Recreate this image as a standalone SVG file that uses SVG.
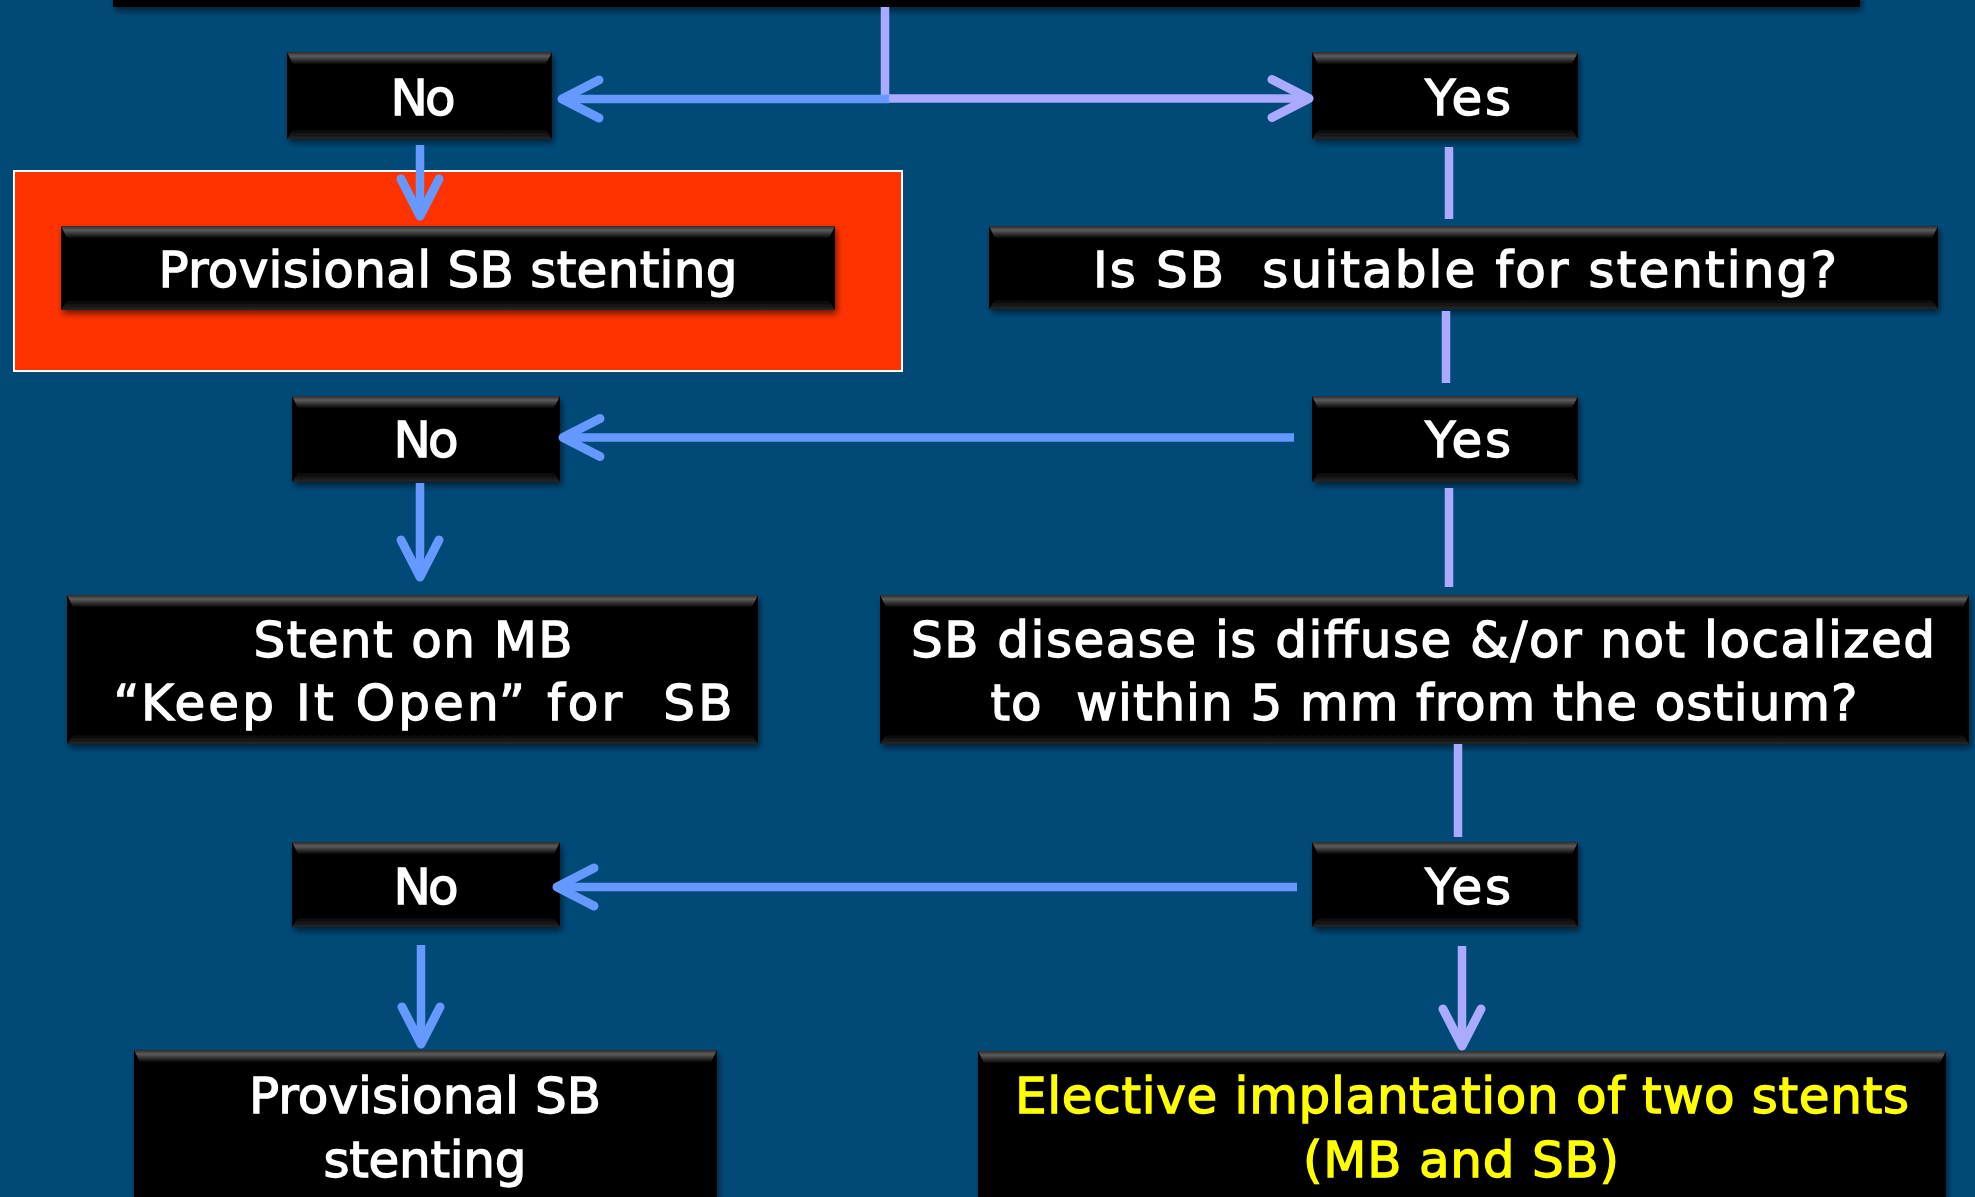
<svg xmlns="http://www.w3.org/2000/svg" width="1975" height="1197" viewBox="0 0 1975 1197">
<style>
.bg{fill:#014a78}
.box{fill:#050505}
.bt{fill:url(#gTop)}
.bb{fill:url(#gBot)}
.t{font-family:"DejaVu Sans","Liberation Sans",sans-serif;font-size:50px;fill:#ffffff;stroke:#ffffff;stroke-width:1.3;text-anchor:middle;white-space:pre}
.y{fill:#ffff00;stroke:#ffff00}
.blue{fill:none;stroke:#6699ff;stroke-width:8.5}
.pur{fill:none;stroke:#aaaaff;stroke-width:8.5}
</style>
<defs>
<linearGradient id="gTop" x1="0" y1="0" x2="0" y2="1">
<stop offset="0" stop-color="#2a2a2a"/>
<stop offset="0.35" stop-color="#5c5c5c"/>
<stop offset="1" stop-color="#050505"/>
</linearGradient>
<linearGradient id="gBot" x1="0" y1="0" x2="0" y2="1">
<stop offset="0" stop-color="#050505"/>
<stop offset="1" stop-color="#262626"/>
</linearGradient>
<filter id="sh" x="-5%" y="-20%" width="110%" height="150%">
<feGaussianBlur in="SourceAlpha" stdDeviation="3"/>
<feOffset dx="2" dy="4" result="b"/>
<feComponentTransfer><feFuncA type="linear" slope="0.55"/></feComponentTransfer>
<feMerge><feMergeNode/><feMergeNode in="SourceGraphic"/></feMerge>
</filter>
<marker id="aB" markerUnits="userSpaceOnUse" viewBox="-45 -25 52 50" refX="0" refY="0" markerWidth="52" markerHeight="50" orient="auto" overflow="visible">
<path d="M-37,-19 L0,0 L-37,19" fill="none" stroke="#6699ff" stroke-width="9" stroke-linecap="round" stroke-linejoin="round"/>
</marker>
<marker id="aP" markerUnits="userSpaceOnUse" viewBox="-45 -25 52 50" refX="0" refY="0" markerWidth="52" markerHeight="50" orient="auto" overflow="visible">
<path d="M-37,-19 L0,0 L-37,19" fill="none" stroke="#aaaaff" stroke-width="9" stroke-linecap="round" stroke-linejoin="round"/>
</marker>
</defs>
<rect class="bg" x="0" y="0" width="1975" height="1197"/>

<g id="top-box" filter="url(#sh)">
<rect class="box" x="113" y="-60" width="1747" height="67" fill="#0d0d0d"/>
</g>

<g id="highlight">
<rect x="14" y="171" width="888" height="200" fill="#ff3300" stroke="#ffffff" stroke-width="2"/>
</g>

<g id="no1" filter="url(#sh)">
<rect class="box" x="287" y="52" width="265" height="87"/>
<polygon class="bt" points="287,52 552,52 546,64 293,64"/>
<polygon class="bb" points="293,130 546,130 552,139 287,139"/>
<text class="t" x="423" y="115" textLength="65">No</text>
</g>

<g id="yes1" filter="url(#sh)">
<rect class="box" x="1312" y="52" width="266" height="87"/>
<polygon class="bt" points="1312,52 1578,52 1572,64 1318,64"/>
<polygon class="bb" points="1318,130 1572,130 1578,139 1312,139"/>
<text class="t" x="1468" y="115" textLength="86">Yes</text>
</g>

<g id="prov1" filter="url(#sh)">
<rect class="box" x="61" y="226" width="774" height="84"/>
<polygon class="bt" points="61,226 835,226 829,238 67,238"/>
<polygon class="bb" points="67,301 829,301 835,310 61,310"/>
<text class="t" x="448" y="287" textLength="579">Provisional SB stenting</text>
</g>

<g id="suitable" filter="url(#sh)">
<rect class="box" x="989" y="226" width="949" height="83"/>
<polygon class="bt" points="989,226 1938,226 1932,238 995,238"/>
<polygon class="bb" points="995,300 1932,300 1938,309 989,309"/>
<text class="t" x="1465" y="287" textLength="744" xml:space="preserve">Is SB  suitable for stenting?</text>
</g>

<g id="no2" filter="url(#sh)">
<rect class="box" x="292" y="396" width="268" height="86"/>
<polygon class="bt" points="292,396 560,396 554,408 298,408"/>
<polygon class="bb" points="298,473 554,473 560,482 292,482"/>
<text class="t" x="426" y="457" textLength="65">No</text>
</g>

<g id="yes2" filter="url(#sh)">
<rect class="box" x="1312" y="396" width="266" height="86"/>
<polygon class="bt" points="1312,396 1578,396 1572,408 1318,408"/>
<polygon class="bb" points="1318,473 1572,473 1578,482 1312,482"/>
<text class="t" x="1468" y="457" textLength="86">Yes</text>
</g>

<g id="stent-mb" filter="url(#sh)">
<rect class="box" x="67" y="595" width="691" height="149"/>
<polygon class="bt" points="67,595 758,595 752,607 73,607"/>
<polygon class="bb" points="73,735 752,735 758,744 67,744"/>
<text class="t" x="413" y="657" textLength="319">Stent on MB</text>
<text class="t" x="423" y="720" textLength="619" xml:space="preserve">“Keep It Open” for  SB</text>
</g>

<g id="sb-disease" filter="url(#sh)">
<rect class="box" x="880" y="595" width="1089" height="149"/>
<polygon class="bt" points="880,595 1969,595 1963,607 886,607"/>
<polygon class="bb" points="886,735 1963,735 1969,744 880,744"/>
<text class="t" x="1423" y="657" textLength="1024">SB disease is diffuse &amp;/or not localized</text>
<text class="t" x="1424" y="720" textLength="867" xml:space="preserve">to  within 5 mm from the ostium?</text>
</g>

<g id="no3" filter="url(#sh)">
<rect class="box" x="292" y="842" width="268" height="85"/>
<polygon class="bt" points="292,842 560,842 554,854 298,854"/>
<polygon class="bb" points="298,918 554,918 560,927 292,927"/>
<text class="t" x="426" y="904" textLength="65">No</text>
</g>

<g id="yes3" filter="url(#sh)">
<rect class="box" x="1312" y="842" width="266" height="85"/>
<polygon class="bt" points="1312,842 1578,842 1572,854 1318,854"/>
<polygon class="bb" points="1318,918 1572,918 1578,927 1312,927"/>
<text class="t" x="1468" y="904" textLength="86">Yes</text>
</g>

<g id="prov2" filter="url(#sh)">
<rect class="box" x="134" y="1050" width="583" height="170"/>
<polygon class="bt" points="134,1050 717,1050 711,1062 140,1062"/>
<text class="t" x="425" y="1113" textLength="352">Provisional SB</text>
<text class="t" x="425" y="1177" textLength="203">stenting</text>
</g>

<g id="elective" filter="url(#sh)">
<rect class="box" x="978" y="1051" width="968" height="170"/>
<polygon class="bt" points="978,1051 1946,1051 1940,1063 984,1063"/>
<text class="t y" x="1462" y="1113" textLength="894">Elective implantation of two stents</text>
<text class="t y" x="1461" y="1177" textLength="316">(MB and SB)</text>
</g>

<g id="connectors">
<path class="pur" d="M885,7 V99"/>
<path class="pur" d="M885,98.5 H1309" marker-end="url(#aP)"/>
<path class="blue" d="M889,99 H562" marker-end="url(#aB)"/>
<path class="blue" d="M420,145 V216" marker-end="url(#aB)"/>
<path class="pur" d="M1449,147 V219"/>
<path class="pur" d="M1446,311 V383"/>
<path class="blue" d="M1294,437.5 H563" marker-end="url(#aB)"/>
<path class="blue" d="M420,483 V577" marker-end="url(#aB)"/>
<path class="pur" d="M1449,488 V587"/>
<path class="pur" d="M1458,744 V837"/>
<path class="blue" d="M1297,887 H557" marker-end="url(#aB)"/>
<path class="blue" d="M421,945 V1044" marker-end="url(#aB)"/>
<path class="pur" d="M1462,946 V1046" marker-end="url(#aP)"/>
</g>
</svg>
